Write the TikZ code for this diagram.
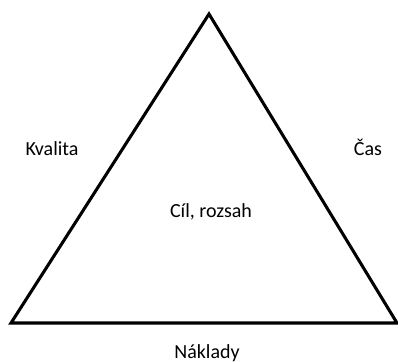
\documentclass[tikz,border=0pt]{standalone}
\usepackage{fontspec}
\setmainfont{Carlito}
\usetikzlibrary{positioning}

\begin{document}
\begin{tikzpicture}[x=0.75pt, y=-0.75pt, label/.style={anchor=base, inner sep=0pt, font=\fontsize{15}{18}\selectfont}]
            \useasboundingbox (0,0) rectangle (398,361);

            % Triangle
            \coordinate (top) at (209,14);
            \coordinate (left) at (11,323);
            \coordinate (right) at (397,323);
            \draw [line width=2.3pt, line join=miter] (top) -- (right) -- (left) -- cycle;

            % Labels
            \node (kvalita) [label] at (52,155) {Kvalita};
            \node (cas) [label] at (368,155) {Čas};
            \node (cil) [label] at (211,217) {Cíl, rozsah};
            \node (naklady) [label] at (207,358) {Náklady};
        \end{tikzpicture}
\end{document}
